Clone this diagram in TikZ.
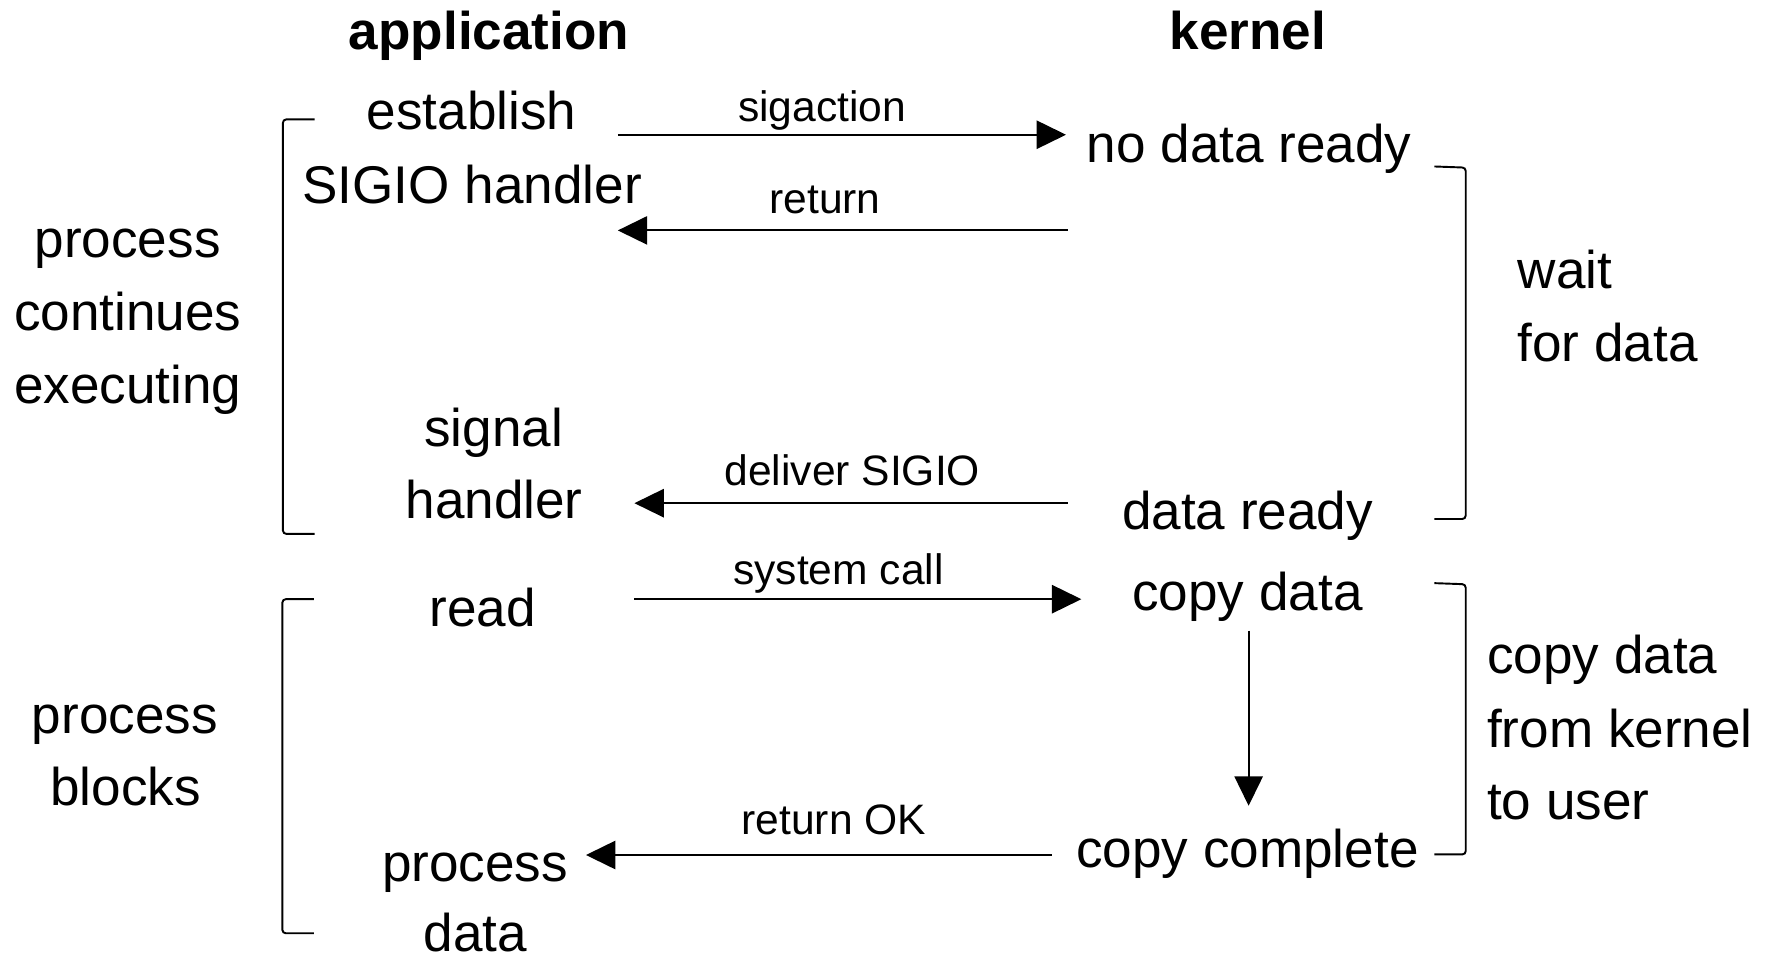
\documentclass[tikz,border=0pt]{standalone}
\usepackage{fontspec}
\setmainfont{Liberation Sans}
\usetikzlibrary{arrows.meta}
\tikzset{
  txt/.style={font=\fontsize{23.5pt}{30pt}\selectfont, inner sep=0pt, anchor=base},
  side/.style={txt, anchor=base west},
  lbl/.style={font=\fontsize{18.85pt}{24pt}\selectfont, inner sep=0pt, anchor=base},
  ttl/.style={font=\bfseries\fontsize{23.5pt}{30pt}\selectfont, inner sep=0pt, anchor=base},
  msg/.style={line width=0.85pt, -{Triangle[length=13pt,width=12.5pt]}},
  brk/.style={line width=0.85pt, rounded corners=1.5pt}
}
\begin{document}
\begin{tikzpicture}[x=0.5pt, y=-0.5pt]
\useasboundingbox (0,0) rectangle (1568,850);

% column headings
\node[ttl] (app) at (433,44) {application};
\node[ttl] (ker) at (1105,44) {kernel};

% application side
\node[txt] (est1) at (417.5,115) {establish};
\node[txt] (est2) at (418,180) {SIGIO handler};
\node[txt] (sig1) at (437,395) {signal};
\node[txt] (sig2) at (437.5,459) {handler};
\node[txt] (rd)   at (427.4,554.5) {read};
\node[txt] (pd1)  at (420.7,780.6) {process};
\node[txt] (pd2)  at (420.7,842.5) {data};

% kernel side
\node[txt] (ndr) at (1106,144) {no data ready};
\node[txt] (dr)  at (1104.5,469) {data ready};
\node[txt] (cd)  at (1104.5,540.7) {copy data};
\node[txt] (cc)  at (1104.5,767.7) {copy complete};

% left-hand phase descriptions
\node[txt] (pc1) at (113,228) {process};
\node[txt] (pc2) at (113,292.5) {continues};
\node[txt] (pc3) at (113,357.5) {executing};
\node[txt] (pb1) at (110.5,649) {process};
\node[txt] (pb2) at (111.3,713.4) {blocks};

% right-hand phase descriptions
\node[side] (w1) at (1343.3,255.8) {wait};
\node[side] (w2) at (1343.3,320.2) {for data};
\node[side] (c1) at (1316.3,596.5) {copy data};
\node[side] (c2) at (1316.3,661.6) {from kernel};
\node[side] (c3) at (1316.3,725.3) {to user};

% arrow end points
\coordinate (sa0) at (547,119.3);   \coordinate (sa1) at (943.8,119.3);
\coordinate (rt0) at (945.3,204);   \coordinate (rt1) at (547,204);
\coordinate (ds0) at (945.3,445.5); \coordinate (ds1) at (561.7,445.5);
\coordinate (sc0) at (561.7,530.5); \coordinate (sc1) at (957.4,530.5);
\coordinate (cp0) at (1105.5,558.3);\coordinate (cp1) at (1105.5,713.4);
\coordinate (ok0) at (931,757);     \coordinate (ok1) at (518.8,757);

% messages
\draw[msg] (sa0) -- (sa1);
\node[lbl] (lsa) at (728,107.5) {sigaction};
\draw[msg] (rt0) -- (rt1);
\node[lbl] (lrt) at (730.4,188.7) {return};
\draw[msg] (ds0) -- (ds1);
\node[lbl] (lds) at (754.6,429.6) {deliver SIGIO};
\draw[msg] (sc0) -- (sc1);
\node[lbl] (lsc) at (742.4,517.7) {system call};
\draw[msg] (cp0) -- (cp1);
\draw[msg] (ok0) -- (ok1);
\node[lbl] (lok) at (738.3,738.8) {return OK};

% brackets
\coordinate (b1a) at (278.5,105.7); \coordinate (b1b) at (278.5,472.7);
\coordinate (b2a) at (278,530.5);   \coordinate (b2b) at (278,826.3);
\coordinate (b3a) at (1270,147.4);  \coordinate (b3b) at (1270,459.5);
\coordinate (b4a) at (1270,516.3);  \coordinate (b4b) at (1270,756.5);
\draw[brk] (b1a) -- ++(-28,0) |- (b1b);
\draw[brk] (b2a) -- ++(-28,0) |- (b2b);
\draw[brk] (b3a) -- ++(27.7,1) |- (b3b);
\draw[brk] (b4a) -- ++(27.7,1) |- (b4b);
\end{tikzpicture}
\end{document}
